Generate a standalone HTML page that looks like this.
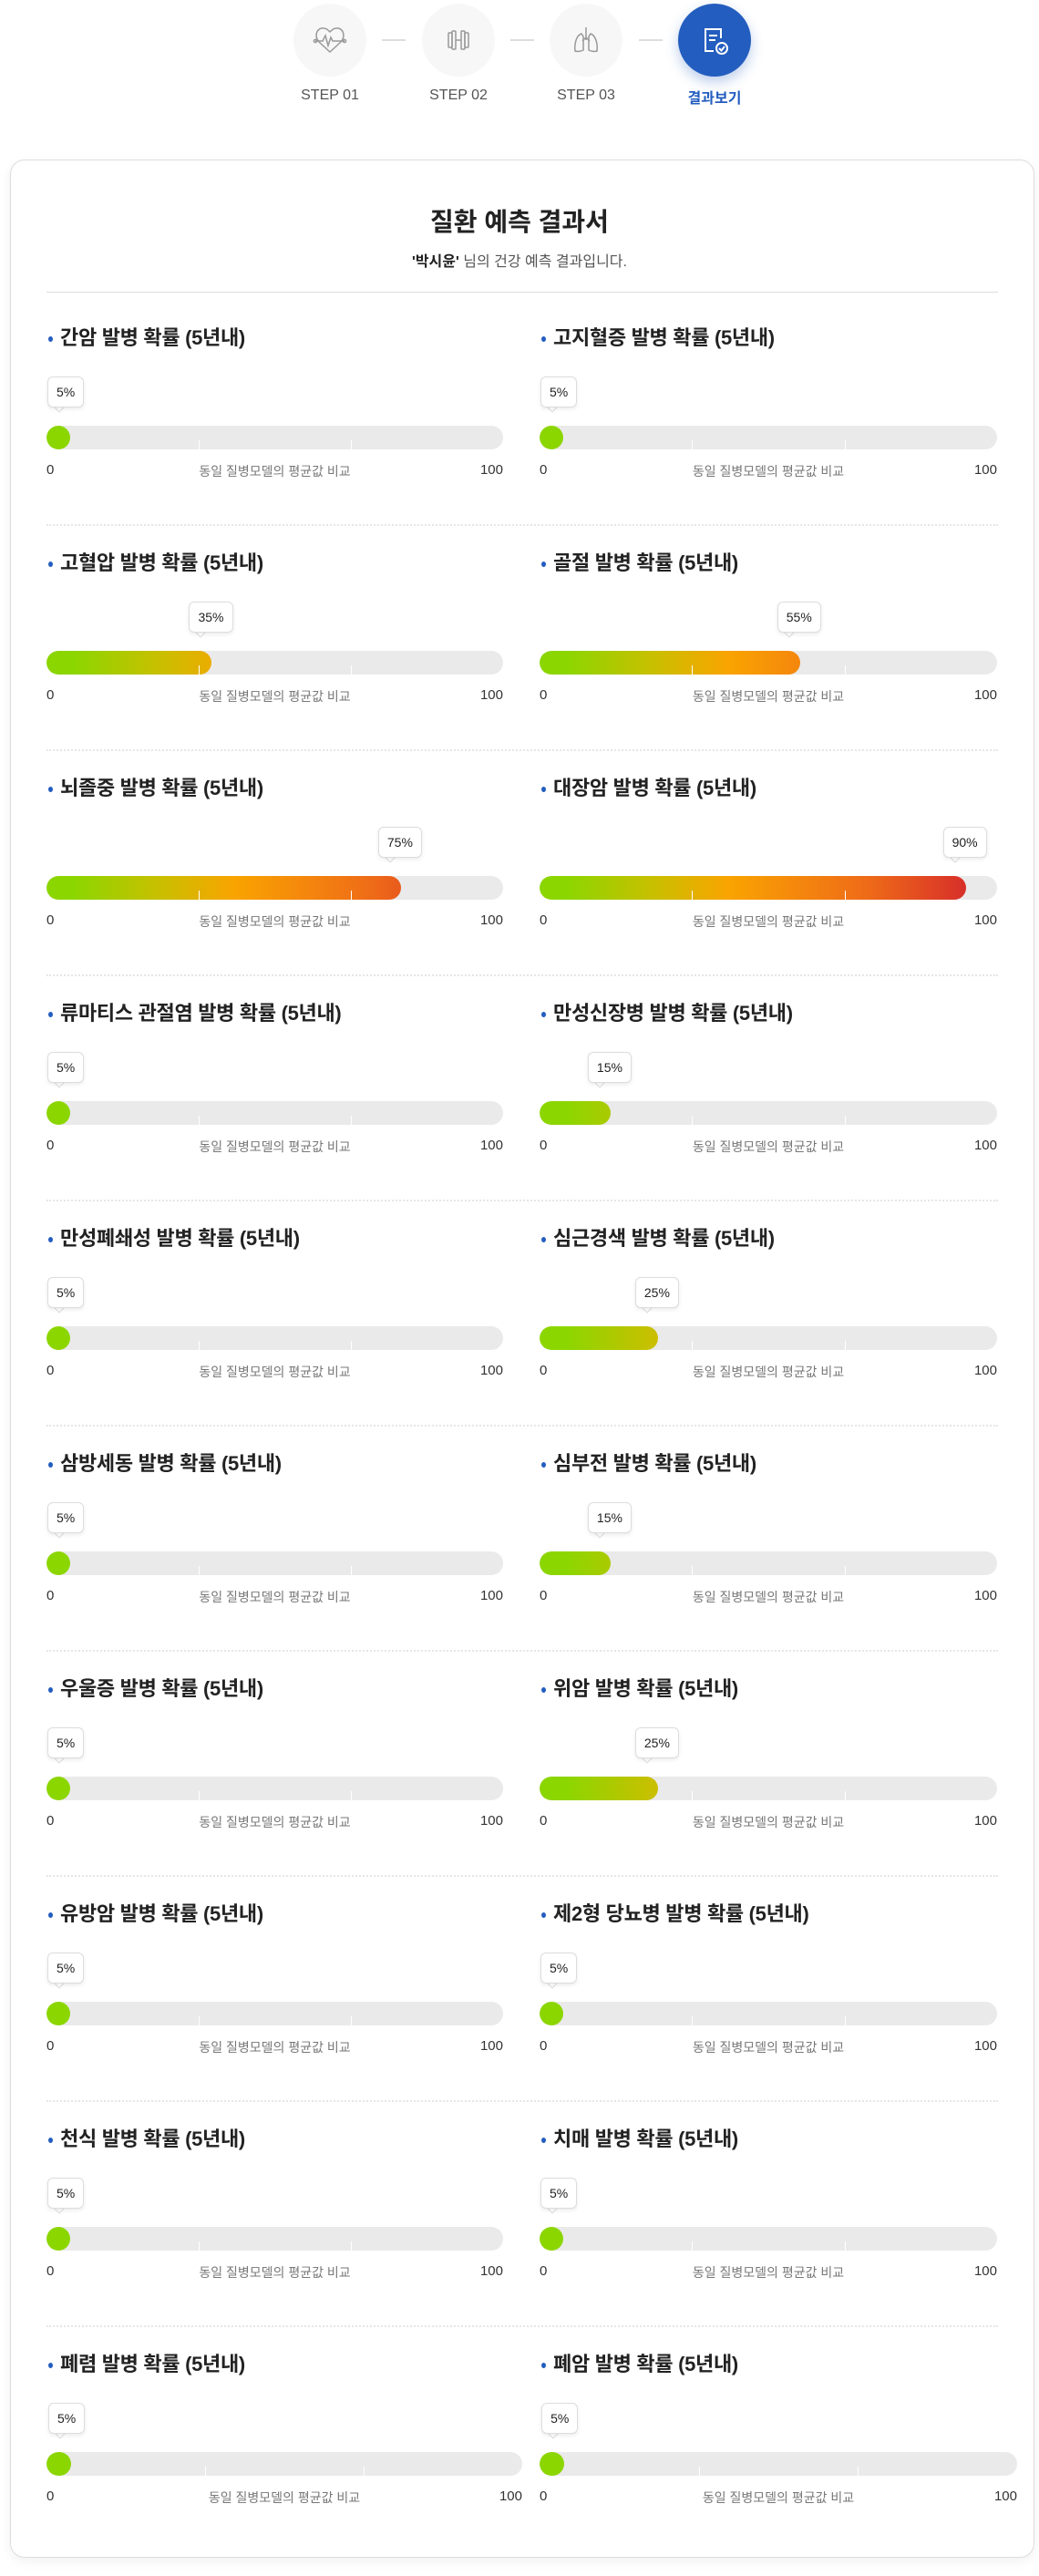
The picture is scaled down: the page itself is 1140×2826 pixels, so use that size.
<!DOCTYPE html>
<html><head><meta charset="utf-8">
<style>
*{margin:0;padding:0;box-sizing:border-box}
body{width:1140px;height:2826px;background:#fff;position:relative;font-family:"Liberation Sans","Noto Sans CJK KR",sans-serif;overflow:hidden}
.step{position:absolute;top:4px;width:80px;height:80px;border-radius:50%;background:#f7f7f7;display:flex;align-items:center;justify-content:center}
.step.on{background:#235dbf;box-shadow:0 6px 14px rgba(35,93,191,.3)}
.slabel{position:absolute;top:96px;width:120px;text-align:center;font-size:16px;color:#555}
.conn{position:absolute;top:43px;width:26px;height:2px;background:#ddd}
#card{position:absolute;left:11px;top:175px;width:1124px;height:2631px;border:1px solid #ddd;border-radius:16px;box-shadow:0 4px 12px rgba(0,0,0,.06)}
.abs{position:absolute}
.title{font-size:22px;font-weight:bold;color:#222;white-space:nowrap;line-height:26px;letter-spacing:-0.3px}
.bul{width:5px;height:6px;border-radius:50%;background:#235dbf}
.bar{height:26px;border-radius:13px;background:#eaeaea;overflow:hidden}
.fill{position:absolute;left:0;top:0;height:26px;border-radius:13px}
.tick{position:absolute;top:16px;width:1px;height:10px;background:#fff}
.tip{height:34px;border:1px solid #ddd;border-radius:6px;background:#fff;box-shadow:0 2px 4px rgba(0,0,0,.08);font-size:14px;color:#222;line-height:32px;padding:0 9px;white-space:nowrap}
.tail{width:8px;height:8px;background:#fff;border-right:1px solid #ddd;border-bottom:1px solid #ddd;transform:rotate(45deg)}
.lab{font-size:15px;color:#333;line-height:18px;white-space:nowrap}
.mid{color:#777;font-size:14px}
.dash{height:0;border-top:2px dotted #e6e6e6}
</style></head><body>
<div class="conn" style="left:419px"></div>
<div class="conn" style="left:560px"></div>
<div class="conn" style="left:701px"></div>
<div class="step" style="left:322px"><svg width="40" height="40" viewBox="0 0 40 40" fill="none" stroke="#999" stroke-width="1.5"><path d="M20 33 L8 22 C2 15 6 6 13 7 C16 7 18 9 20 11 C22 9 24 7 27 7 C34 6 38 15 32 22 Z"/><path d="M4 21 H12 L15 15 L18 26 L21 17 L23 21 H36"/><circle cx="4" cy="21" r="1.6"/><circle cx="36" cy="21" r="1.6"/></svg></div>
<div class="step" style="left:463px"><svg width="40" height="40" viewBox="0 0 40 40" fill="none" stroke="#999" stroke-width="1.5"><rect x="9" y="12" width="4" height="16" rx="1"/><rect x="13" y="10" width="4" height="20" rx="1"/><rect x="23" y="10" width="4" height="20" rx="1"/><rect x="27" y="12" width="4" height="16" rx="1"/><path d="M17 20H23"/></svg></div>
<div class="step" style="left:603px"><svg width="40" height="40" viewBox="0 0 40 40" fill="none" stroke="#999" stroke-width="1.5"><path d="M20 6V20 M20 17 L16 21 M20 17 L24 21"/><path d="M15 13 C9 15 7 25 8 32 C11 33 15 32 17 31 L17 16 Z"/><path d="M25 13 C31 15 33 25 32 32 C29 33 25 32 23 31 L23 16 Z"/></svg></div>
<div class="step on" style="left:744px"><svg width="40" height="40" viewBox="0 0 40 40" fill="none" stroke="#fff" stroke-width="2"><path d="M27 18V8 H10 V32 H19"/><path d="M14 15H23 M14 20H21"/><circle cx="28" cy="29" r="6"/><path d="M25 29 L27.5 31.5 L31 27"/></svg></div>
<div class="slabel" style="left:302px">STEP 01</div>
<div class="slabel" style="left:443px">STEP 02</div>
<div class="slabel" style="left:583px">STEP 03</div>
<div class="slabel" style="left:724px;top:94px;color:#235dbf;font-weight:bold">결과보기</div>
<div id="card"></div>
<div class="abs" style="left:0;width:1140px;top:222px;text-align:center;font-size:28px;font-weight:bold;color:#222">질환 예측 결과서</div>
<div class="abs" style="left:0;width:1140px;top:273px;text-align:center;font-size:16px;color:#555"><b style="color:#222">'박시윤'</b> 님의 건강 예측 결과입니다.</div>
<div class="abs" style="left:51px;top:320px;width:1044px;height:1px;background:#ddd"></div>
<div id="charts"></div>
<script>
const leftNames=["간암","고혈압","뇌졸중","류마티스 관절염","만성폐쇄성","삼방세동","우울증","유방암","천식","폐렴"];
const leftValues=[5,35,75,5,5,5,5,5,5,5];
const rightNames=["고지혈증","골절","대장암","만성신장병","심근경색","심부전","위암","제2형 당뇨병","치매","폐암"];
const rightValues=[5,55,90,15,25,15,25,5,5,5];
const axisMin=0, axisMax=100;
const root=document.getElementById('charts');
const GRAD='linear-gradient(90deg,#8cd600 0%,#8cd600 6%,#c9bf00 25%,#f9a400 41%,#f58a0c 55%,#ee6a18 72%,#d8302a 93%,#d02828 100%)';
function xScale(v,w){return (v-axisMin)/(axisMax-axisMin)*w*1.035;}
function mk(cls,css,txt){const e=document.createElement('div');e.className=cls;e.style.cssText=css;if(txt!=null)e.textContent=txt;root.appendChild(e);return e;}
function section(name,val,x,T,w){
  let e;
  e=mk('abs bul',`left:${x+2}px;top:${T-3}px`);
  
  
  e=mk('abs title',`left:${x+15}px;top:${T-14}px`,name+' 발병 확률 (5년내)');
  
  
  const bar=mk('abs bar',`left:${x}px;top:${T+95}px;width:${w}px`);
  
  
  const fw=Math.max(26,xScale(val,w));
  const f=document.createElement('div');f.className='fill';
  f.style.cssText=`width:${fw}px;background:${GRAD};background-size:${w}px 26px`;
  
  
  bar.appendChild(f);
  [1,2].forEach(i=>{const t=document.createElement('div');t.className='tick';t.style.left=Math.round(w*i/3)+'px';
    
    
    bar.appendChild(t);});
  const tl=Math.max(x+1,x+fw-25);
  const tail=mk('abs tail',`left:${tl+9}px;top:${T+71}px`);
  
  
  const tip=mk('abs tip',`left:${tl}px;top:${T+41}px`,val+'%');
  
  
  e=mk('abs lab',`left:${x}px;top:${T+135}px`,String(axisMin));
  
  
  e=mk('abs lab mid',`left:${x}px;width:${w}px;text-align:center;top:${T+136}px`,'동일 질병모델의 평균값 비교');
  
  
  e=mk('abs lab',`left:${x}px;width:${w}px;text-align:right;top:${T+135}px`,String(axisMax));
  
  
}
for(let k=0;k<leftNames.length;k++){
  const T=372+247*k, last=k===leftNames.length-1;
  section(leftNames[k],leftValues[k],51,T,last?522:501);
  section(rightNames[k],rightValues[k],592,T,last?524:502);
  if(!last){const d=mk('abs dash',`left:51px;top:${T+203}px;width:1044px`);
    
    }
}
</script>
</body></html>
